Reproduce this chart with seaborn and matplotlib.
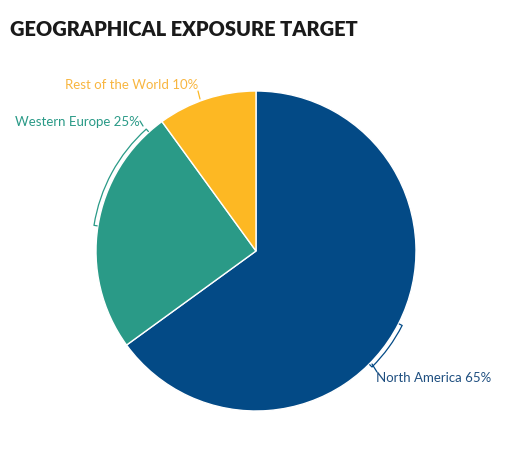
import numpy as np
import matplotlib.pyplot as plt
from matplotlib.patches import Arc
import seaborn as sns

regions = ["North America", "Western Europe", "Rest of the World"]
shares = [65, 25, 10]
colors = ["#034A86", "#2A9A87", "#FDB823"]
label_colors = ["#1F4F80", "#2A9A87", "#F8B640"]

sns.set_theme(style="white")
plt.rcParams['font.family'] = ['Lato', 'DejaVu Sans']

fig = plt.figure(figsize=(5.13, 4.67), dpi=100)
ax = fig.add_axes([0, 0, 1, 1])
H = 467
cx, cy, r = 256, H - 251, 160

ax.pie(shares, colors=sns.color_palette(colors), startangle=90, counterclock=False,
       center=(cx, cy), radius=r, frame=True,
       wedgeprops=dict(edgecolor="white", linewidth=1))
ax.set_xlim(0, 513)
ax.set_ylim(0, H)
ax.set_aspect("equal")
ax.axis("off")

# bracket arcs just outside the slices
rb = 164
brackets = [(-45, -27, 0), (132, 171, 1)]
for a0, a1, i in brackets:
    ax.add_patch(Arc((cx, cy), 2 * rb, 2 * rb, theta1=a0, theta2=a1,
                     color=colors[i], lw=0.9))
    for a in (a0, a1):
        t = np.radians(a)
        ax.plot([cx + r * 1.005 * np.cos(t), cx + rb * np.cos(t)],
                [cy + r * 1.005 * np.sin(t), cy + rb * np.sin(t)], color=colors[i], lw=0.9)

# leader lines
ax.plot([372, 377], [H - 364, H - 372], color=colors[0], lw=0.9)
ax.plot([140, 143], [H - 121, H - 126], color=colors[1], lw=0.9)
ax.plot([198, 200], [H - 91, H - 99], color=colors[2], lw=0.9)

fs = 9.5
ax.text(376, H - 378, f"{regions[0]} {shares[0]}%", color=label_colors[0],
        fontsize=fs, ha="left", va="center")
ax.text(140, H - 122, f"{regions[1]} {shares[1]}%", color=label_colors[1],
        fontsize=fs, ha="right", va="center")
ax.text(198, H - 85, f"{regions[2]} {shares[2]}%", color=label_colors[2],
        fontsize=fs, ha="right", va="center")

fig.text(10, H - 30, "GEOGRAPHICAL EXPOSURE TARGET", transform=None,
         fontsize=14.4, fontweight="heavy", color="#1a1a1a", va="center", ha="left")

fig.savefig("out.png", dpi=100)
